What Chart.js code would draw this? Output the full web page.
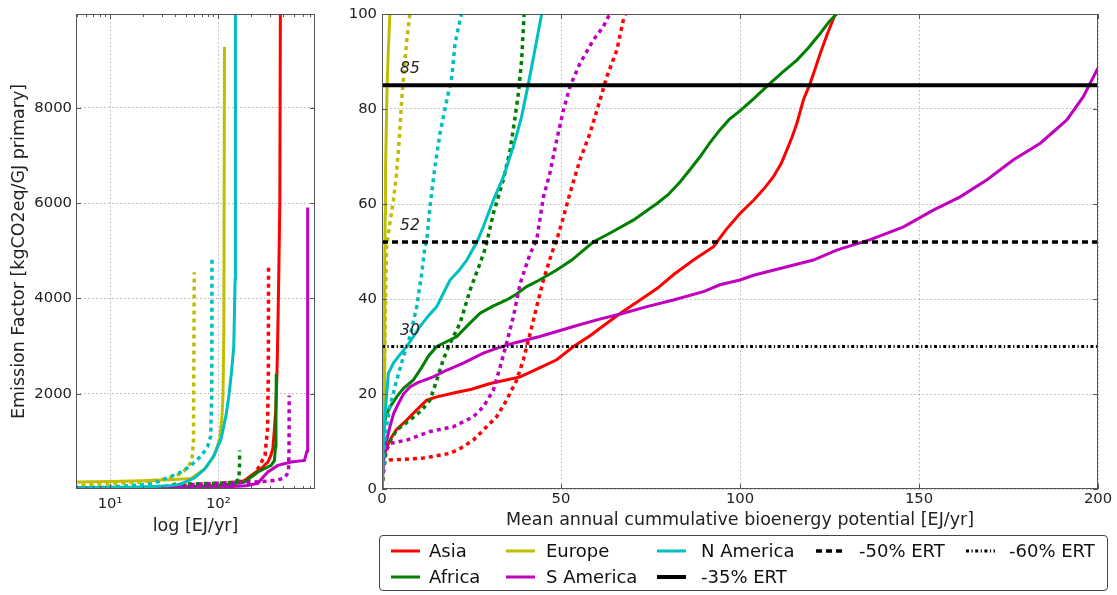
<!DOCTYPE html>
<html>
<head>
<meta charset="utf-8">
<script src="https://cdn.jsdelivr.net/npm/chart.js@4.4.1/dist/chart.umd.min.js"></script>
<style>
  html, body { margin: 0; padding: 0; background: #fff; }
  #wrap { position: relative; width: 1117px; height: 595px; overflow: hidden; font-family: 'DejaVu Sans', sans-serif; }
  #cLeft { position: absolute; left: 0; top: 0; }
  #cRight { position: absolute; left: 330px; top: 0; }
  #legend { position: absolute; left: 379px; top: 535px; width: 727px; height: 54px; border: 1px solid #444; border-radius: 4px; }
  .lg-text { position: absolute; font-size: 18px; line-height: 20px; color: #111; white-space: nowrap; }
  .lg-line { position: absolute; overflow: visible; }
</style>
</head>
<body>
<div id="wrap">
  <canvas id="cLeft" width="330" height="545"></canvas>
  <canvas id="cRight" width="787" height="545"></canvas>
  <div id="legend"></div>
</div>
<script>
// Supply curves: [cumulative potential EJ/yr, emission factor kgCO2eq/GJ]
const asiaSolid = [[0,0],[0.3,6],[1,8],[2.2,10.3],[4,12.5],[6.9,14.5],[9.5,16.5],[12.5,18.7],[15.3,19.4],[20,20.2],[25,21],[30.2,22.2],[35,23],[38.6,23.6],[44,25.5],[48.8,27.2],[53.5,30],[58,32.2],[62.8,34.9],[67,37.2],[72.1,39.8],[77,42.3],[81.4,45.1],[87,48.2],[92.6,51],[96,54.5],[100,58],[103.8,60.8],[107,63.5],[109.3,65.7],[111.5,68.5],[113.1,71.4],[114.5,74],[115.9,77],[117.7,81.9],[119.6,85.4],[121,88.5],[122.4,91.7],[124.5,96],[126.6,100],[130,110],[145,130],[163,147],[180,200],[201,285],[225,360],[249,426],[270,510],[287,566],[305,700],[319,846],[330,1266],[340,1700],[348,2400],[355,3360],[362,4500],[370,6000],[375,10500]];
const asiaDashed = [[0,0],[0.4,5.4],[2.2,6.1],[11.5,6.5],[19,7.5],[22,8.6],[25.5,10.3],[28.3,12.4],[32,15.2],[34.8,18.7],[37.6,22.9],[39.5,27.2],[41.4,32.8],[43.2,38.4],[45.1,44],[47.4,49.6],[48.8,52.4],[50.7,57.3],[52.5,62.3],[55.3,69.3],[58.1,74.9],[60.9,81.9],[62.8,86.8],[65.6,92.4],[67.4,98.7],[68,100],[80,110],[120,130],[170,160],[201,216],[232,426],[270,705],[285,1266],[290,2500],[291,4690]];
const africaSolid = [[0,0],[0.3,12],[1,15],[2,17],[4.1,19.4],[6,21.2],[8.7,22.9],[11,25.5],[13,28],[15.3,30],[18,31],[20.9,32.1],[24,34.5],[27.4,37],[31,38.5],[34.8,39.8],[37.5,41],[40.4,42.6],[44,44],[48.8,46.1],[53,48.2],[59,52],[64,54],[70.2,56.6],[76.8,60.1],[80,62],[83.3,64.7],[86,67.2],[88.9,70],[91.5,72.8],[94.4,75.6],[97,77.8],[100,79.6],[104,82.3],[108.4,85.4],[112,87.8],[115.9,90.3],[119,92.8],[122.4,95.9],[125,98.5],[127,100],[130,105],[175,147],[232,357],[308,495],[330,600],[338,900],[341,1500],[343,2420]];
const africaDashed = [[0,0],[0.4,3.3],[1.3,8.9],[4.1,12.4],[7.8,14.5],[11,16.5],[13.4,18.7],[15.3,22.9],[17.1,27.2],[19,30.7],[21.8,34.9],[24.6,41.9],[27.4,47.5],[29,51],[31.1,58],[33.9,65.1],[35.8,71.4],[37.2,78.4],[38.1,83.3],[39,90.3],[39.5,97.3],[39.7,100],[60,110],[100,120],[140,140],[155,200],[157,500],[157.5,810]];
const europeSolid = [[0,0],[0.3,5],[0.5,12],[0.6,20],[0.7,30],[0.8,45],[0.9,58],[1.0,68],[1.2,76],[1.4,84],[1.7,91],[2.2,100],[3.5,125],[5,145],[10,155],[20,175],[35,195],[56,220],[75,420],[92,700],[103,1050],[108,1500],[110.5,1960],[112.6,3360],[114,9280]];
const europeDashed = [[0,0],[0.3,5],[0.5,15],[0.7,25],[0.9,35],[1.1,45],[1.3,51],[2.2,56],[3.2,60.8],[4,66],[4.6,71.4],[5.1,77],[5.5,81.9],[6,86.5],[6.4,90.3],[7,95],[7.8,100],[12,120],[20,150],[35,220],[45,320],[52,450],[57,600],[59,1000],[60,4550]];
const sAmericaSolid = [[0,0],[0.4,6.1],[1.2,10],[2.2,13.1],[3.3,16],[4.6,18],[6,20],[7.8,21.5],[10,22.4],[14.3,23.6],[18,25],[22.7,26.5],[28.3,28.6],[32,29.6],[36.7,30.7],[44.1,32.1],[53.5,34.2],[60,35.6],[67.4,37],[74,38.4],[81.4,39.8],[90,41.6],[94.4,43],[100,44],[103.8,45],[113.1,46.8],[120.5,48.2],[127,50.3],[136.4,52.5],[145.7,55.2],[154,58.7],[161.5,61.5],[169,65.1],[176.4,69.3],[183.9,72.8],[191.3,77.7],[195.9,82.6],[199.7,88.2],[205,95],[215,105],[232,120],[260,250],[287,357],[355,495],[471,566],[625,600],[660,800],[668,2000],[671,5910]];
const sAmericaDashed = [[0,0],[0.4,6.8],[2.2,9.6],[6.9,10.3],[13.4,12.1],[19.9,13.1],[25.5,15.2],[28.3,17.3],[31.1,20.8],[33,25.7],[34.8,30.7],[36.7,36.3],[38.6,43.3],[41.4,49.6],[43.2,52.4],[45.1,61.5],[46.9,66.5],[48.8,73.5],[50.7,79.8],[52.5,84.7],[55.3,89.6],[59,94.5],[61.8,97.3],[63.2,99.4],[90,115],[150,130],[250,155],[330,180],[400,220],[430,300],[445,400],[450,800],[452,1960]];
const nAmericaSolid = [[0,0],[0.3,8],[0.8,15],[1.3,20],[1.8,24.4],[3.2,26.5],[5,28.3],[6.9,30],[8.7,32],[10.6,34.2],[13,36.5],[15.3,38.4],[17,41],[19,44],[21.5,46],[23.7,48.2],[26.5,52],[28.3,55.2],[31.1,60.8],[33.9,65.7],[36.7,72.1],[39,78.4],[40.9,85.4],[42.7,92.4],[44.6,100],[50,150],[60,230],[75,420],[90,680],[106,1050],[118,1550],[126,2000],[133,2500],[139,3000],[143,4400],[144,10500]];
const nAmericaDashed = [[0,0],[0.3,6],[1,12],[2.2,17.3],[4.1,22.9],[6,27.9],[7.8,32.1],[9.7,38.4],[11.1,45.4],[12,51],[12.5,52.4],[13.4,59.4],[14.8,67.9],[16.2,74.9],[18.1,81.9],[19.5,86.8],[20.4,93.8],[21.8,98.7],[22.2,100],[26,130],[32,210],[45,350],[56,495],[70,700],[80,900],[85,1100],[87,2000],[87.4,4830]];

// Emission reduction thresholds (kgCO2eq/GJ) and their labels
const refLevels = [85, 52, 30];
const refNames = ['-35% ERT', '-50% ERT', '-60% ERT'];
const refSpan = [0, 200];

// Axis ticks
const leftXTicks = [10, 100];
const leftXTickLabels = ['10\u00b9', '10\u00b2'];
const leftYTicks = [2000, 4000, 6000, 8000];
const rightXTicks = [0, 50, 100, 150, 200];
const rightYTicks = [0, 20, 40, 60, 80, 100];

const regions = [
  { name: 'Asia',      color: '#ff0000', solid: asiaSolid,      dashed: asiaDashed },
  { name: 'Africa',    color: '#008000', solid: africaSolid,    dashed: africaDashed },
  { name: 'Europe',    color: '#bfbf00', solid: europeSolid,    dashed: europeDashed },
  { name: 'S America', color: '#bf00bf', solid: sAmericaSolid,  dashed: sAmericaDashed },
  { name: 'N America', color: '#00bfbf', solid: nAmericaSolid,  dashed: nAmericaDashed }
];
const refStyles = [
  { width: 4,   dash: [] },
  { width: 3.5, dash: [6, 4] },
  { width: 3,   dash: [3, 2.5, 1.2, 2.5] }
];

const FONT = "'DejaVu Sans', sans-serif";
const CURVE_DASH = [4, 4];

function curveSets() {
  const out = [];
  regions.forEach(r => {
    out.push({ data: r.solid.map(([x, y]) => ({ x, y })), borderColor: r.color, borderWidth: 3, borderDash: [] });
    out.push({ data: r.dashed.map(([x, y]) => ({ x, y })), borderColor: r.color, borderWidth: 3.5, borderDash: CURVE_DASH });
  });
  return out;
}
function refSets() {
  return refLevels.map((lv, i) => ({
    data: refSpan.map(x => ({ x, y: lv })),
    borderColor: '#000', borderWidth: refStyles[i].width, borderDash: refStyles[i].dash
  }));
}
function finish(sets) {
  return sets.map(s => Object.assign({ showLine: true, pointRadius: 0, pointHoverRadius: 0, fill: false, tension: 0, clip: 0, borderCapStyle: 'butt' }, s));
}

// frame, inward tick marks and threshold labels
const framePlugin = {
  id: 'frame',
  afterDatasetsDraw(chart, args, o) {
    const { ctx, chartArea: a, scales } = chart;
    ctx.save();
    ctx.strokeStyle = '#555';
    ctx.lineWidth = 1;
    const seg = (x1, y1, x2, y2) => { ctx.beginPath(); ctx.moveTo(x1, y1); ctx.lineTo(x2, y2); ctx.stroke(); };
    (o.xMajor || []).forEach(v => {
      const x = Math.round(scales.x.getPixelForValue(v)) + 0.5;
      seg(x, a.bottom, x, a.bottom - 5); seg(x, a.top, x, a.top + 5);
    });
    (o.xMinor || []).forEach(v => {
      const x = Math.round(scales.x.getPixelForValue(v)) + 0.5;
      seg(x, a.bottom, x, a.bottom - 3); seg(x, a.top, x, a.top + 3);
    });
    (o.yMajor || []).forEach(v => {
      const y = Math.round(scales.y.getPixelForValue(v)) + 0.5;
      seg(a.left, y, a.left + 5, y); seg(a.right, y, a.right - 5, y);
    });
    ctx.strokeRect(Math.round(a.left) + 0.5, Math.round(a.top) + 0.5, Math.round(a.right - a.left) - 1, Math.round(a.bottom - a.top) - 1);
    if (o.labels) {
      ctx.font = 'italic 15.5px ' + FONT;
      ctx.fillStyle = '#222';
      ctx.textAlign = 'center';
      ctx.textBaseline = 'middle';
      o.labels.forEach(lv => {
        ctx.fillText(String(lv), scales.x.getPixelForValue(o.labelX), scales.y.getPixelForValue(lv) - 16);
      });
    }
    ctx.restore();
  }
};

const gridCommon = { color: 'rgba(0,0,0,0.3)', lineWidth: 1, drawTicks: false };
const borderCommon = { display: false, dash: [1.5, 2.5] };
const tickFont = { family: FONT, size: 14.8 };
const titleFont = { family: FONT, size: 17.5 };
const plainNumber = v => String(v);

const logMinor = [];
[1, 10, 100].forEach(d => { for (let k = 2; k <= 9; k++) { const v = k * d; if (v > 4.85 && v < 782 && v !== 10 && v !== 100) logMinor.push(v); } });

new Chart(document.getElementById('cLeft'), {
  type: 'scatter',
  data: { datasets: finish(curveSets().reverse()) },
  options: {
    responsive: false, animation: false, devicePixelRatio: 1,
    layout: { padding: { top: 14, right: 15, left: 0, bottom: 0 } },
    plugins: { legend: { display: false }, tooltip: { enabled: false },
      frame: { xMajor: leftXTicks, xMinor: logMinor, yMajor: leftYTicks } },
    scales: {
      x: {
        type: 'logarithmic', min: 4.85, max: 782,
        afterBuildTicks: s => { s.ticks = leftXTicks.map(v => ({ value: v })); },
        afterFit: s => { s.height = 56; },
        grid: gridCommon, border: borderCommon,
        ticks: { font: tickFont, color: '#222', padding: 6, maxRotation: 0, autoSkip: false,
          callback: v => leftXTickLabels[leftXTicks.indexOf(v)] },
        title: { display: true, text: 'log [EJ/yr]', font: titleFont, color: '#222', padding: { top: 0, bottom: 8.5 } }
      },
      y: {
        type: 'linear', min: 0, max: 9970,
        afterBuildTicks: s => { s.ticks = leftYTicks.map(v => ({ value: v })); },
        afterFit: s => { s.width = 76; },
        grid: gridCommon, border: borderCommon,
        ticks: { font: tickFont, color: '#222', padding: 4, callback: plainNumber },
        title: { display: true, text: 'Emission Factor [kgCO2eq/GJ primary]', font: titleFont, color: '#222', padding: { top: 8.5, bottom: 0 } }
      }
    }
  },
  plugins: [framePlugin]
});

new Chart(document.getElementById('cRight'), {
  type: 'scatter',
  data: { datasets: finish(refSets().concat(curveSets().reverse())) },
  options: {
    responsive: false, animation: false, devicePixelRatio: 1,
    layout: { padding: { top: 14, right: 19, left: 0, bottom: 0 } },
    plugins: { legend: { display: false }, tooltip: { enabled: false },
      frame: { xMajor: rightXTicks, yMajor: rightYTicks, labels: refLevels, labelX: 7.8 } },
    scales: {
      x: {
        type: 'linear', min: 0, max: 200,
        afterBuildTicks: s => { s.ticks = rightXTicks.map(v => ({ value: v })); },
        afterFit: s => { s.height = 56; },
        grid: gridCommon, border: borderCommon,
        ticks: { font: tickFont, color: '#222', padding: 1, maxRotation: 0, callback: plainNumber },
        title: { display: true, text: 'Mean annual cummulative bioenergy potential [EJ/yr]', font: titleFont, color: '#222', padding: { top: 0, bottom: 14.5 } }
      },
      y: {
        type: 'linear', min: 0, max: 100,
        afterBuildTicks: s => { s.ticks = rightYTicks.map(v => ({ value: v })); },
        afterFit: s => { s.width = 52; },
        grid: gridCommon, border: borderCommon,
        ticks: { font: tickFont, color: '#222', padding: 5, callback: plainNumber }
      }
    }
  },
  plugins: [framePlugin]
});

// Legend: 8 entries in 5 columns, filled column by column (first columns take two rows)
const legendEntries = regions.map(r => ({ label: r.name, color: r.color, width: 3, dash: [] }))
  .concat(refNames.map((n, i) => ({ label: n, color: '#000', width: refStyles[i].width, dash: refStyles[i].dash })));
const legendCols = [
  { line: 11, text: 49 }, { line: 126, text: 166 }, { line: 277, text: 321 }, { line: 436, text: 479 }, { line: 586, text: 629 }
];
const legendRows = [15, 41];
const nCols = legendCols.length;
const nRows = Math.ceil(legendEntries.length / nCols);
const tallCols = legendEntries.length % nCols || nCols;
const legendEl = document.getElementById('legend');
const SVGNS = 'http://www.w3.org/2000/svg';
let idx = 0;
legendCols.forEach((col, c) => {
  const h = c < tallCols ? nRows : nRows - 1;
  for (let r = 0; r < h && idx < legendEntries.length; r++, idx++) {
    const e = legendEntries[idx], row = legendRows[r];
    const svg = document.createElementNS(SVGNS, 'svg');
    svg.setAttribute('class', 'lg-line');
    svg.setAttribute('width', 30); svg.setAttribute('height', 10);
    svg.style.left = col.line + 'px'; svg.style.top = (row - 5) + 'px';
    const ln = document.createElementNS(SVGNS, 'line');
    ln.setAttribute('x1', 0); ln.setAttribute('x2', 29); ln.setAttribute('y1', 5); ln.setAttribute('y2', 5);
    ln.setAttribute('stroke', e.color); ln.setAttribute('stroke-width', e.width);
    if (e.dash.length) ln.setAttribute('stroke-dasharray', e.dash.join(' '));
    svg.appendChild(ln);
    legendEl.appendChild(svg);
    const t = document.createElement('div');
    t.className = 'lg-text';
    t.textContent = e.label;
    t.style.left = col.text + 'px'; t.style.top = (row - 10) + 'px';
    legendEl.appendChild(t);
  }
});
</script>
</body>
</html>
